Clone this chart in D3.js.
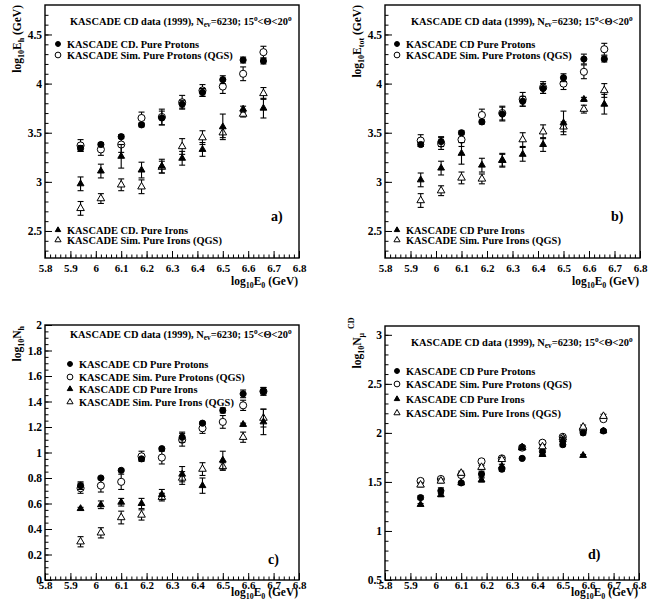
<!DOCTYPE html>
<html>
<head>
<meta charset="utf-8">
<script src="https://cdn.jsdelivr.net/npm/d3@7"></script>
<style>
  body { margin: 0; background: #fff; }
  svg { display: block; }
  text { font-family: "Liberation Serif", "DejaVu Serif", "Times New Roman", serif; font-weight: bold; fill: #000; }
</style>
</head>
<body>
<div id="chart"></div>
<script>
// primary energy bins, log10(E0/GeV)
const energies = [5.94, 6.02, 6.10, 6.18, 6.26, 6.34, 6.42, 6.50, 6.58, 6.66];

// a) log10 Eh
const ehCdProton     = [3.34, 3.38, 3.46, 3.58, 3.65, 3.79, 3.91, 4.04, 4.24, 4.23];
const ehCdProtonErr  = [0.03, 0.02, 0.02, 0.02, 0.07, 0.04, 0.04, 0.04, 0.03, 0.03];
const ehSimProton    = [3.37, 3.33, 3.38, 3.65, 3.66, 3.81, 3.93, 3.97, 4.10, 4.32];
const ehSimProtonErr = [0.06, 0.06, 0.08, 0.06, 0.08, 0.07, 0.06, 0.07, 0.07, 0.06];
const ehCdIron       = [2.98, 3.11, 3.26, 3.12, 3.16, 3.24, 3.33, 3.56, 3.74, 3.75];
const ehCdIronErr    = [0.07, 0.07, 0.12, 0.08, 0.07, 0.07, 0.07, 0.13, 0.03, 0.10];
const ehSimIron      = [2.73, 2.83, 2.97, 2.95, 3.15, 3.36, 3.45, 3.50, 3.69, 3.90];
const ehSimIronErr   = [0.07, 0.05, 0.06, 0.07, 0.06, 0.08, 0.07, 0.05, 0.03, 0.06];

// b) log10 Etot
const etCdProton     = [3.38, 3.41, 3.50, 3.61, 3.69, 3.82, 3.95, 4.06, 4.25, 4.25];
const etCdProtonErr  = [0.02, 0.05, 0.02, 0.02, 0.07, 0.05, 0.05, 0.04, 0.05, 0.03];
const etSimProton    = [3.42, 3.39, 3.43, 3.68, 3.70, 3.84, 3.96, 4.00, 4.12, 4.35];
const etSimProtonErr = [0.06, 0.06, 0.07, 0.06, 0.07, 0.07, 0.06, 0.06, 0.07, 0.06];
const etCdIron       = [3.02, 3.14, 3.29, 3.17, 3.22, 3.28, 3.38, 3.60, 3.84, 3.79];
const etCdIronErr    = [0.07, 0.07, 0.11, 0.07, 0.07, 0.07, 0.07, 0.12, 0.02, 0.10];
const etSimIron      = [2.81, 2.91, 3.04, 3.03, 3.22, 3.43, 3.51, 3.56, 3.74, 3.93];
const etSimIronErr   = [0.07, 0.05, 0.06, 0.05, 0.06, 0.07, 0.07, 0.05, 0.04, 0.07];

// c) log10 Nh
const nhCdProton     = [0.74, 0.80, 0.86, 0.95, 1.03, 1.12, 1.23, 1.33, 1.46, 1.48];
const nhCdProtonErr  = [0.03, 0.01, 0.01, 0.01, 0.01, 0.04, 0.01, 0.02, 0.03, 0.03];
const nhSimProton    = [0.72, 0.74, 0.77, 0.97, 0.96, 1.10, 1.19, 1.24, 1.37, 1.48];
const nhSimProtonErr = [0.04, 0.05, 0.06, 0.04, 0.05, 0.05, 0.04, 0.05, 0.04, 0.03];
const nhCdIron       = [0.56, 0.59, 0.61, 0.60, 0.67, 0.83, 0.74, 0.94, 1.22, 1.24];
const nhCdIronErr    = [0.01, 0.03, 0.03, 0.04, 0.04, 0.06, 0.06, 0.07, 0.01, 0.10];
const nhSimIron      = [0.30, 0.37, 0.49, 0.51, 0.65, 0.80, 0.87, 0.89, 1.12, 1.27];
const nhSimIronErr   = [0.04, 0.04, 0.05, 0.04, 0.03, 0.05, 0.05, 0.03, 0.04, 0.07];

// d) log10 Nmu(CD)
const nmCdProton     = [1.34, 1.41, 1.49, 1.58, 1.63, 1.74, 1.81, 1.88, 2.00, 2.02];
const nmCdProtonErr  = [0.02, 0.03, 0.01, 0.03, 0.02, 0.01, 0.03, 0.02, 0.02, 0.01];
const nmSimProton    = [1.51, 1.53, 1.57, 1.71, 1.74, 1.85, 1.90, 1.96, 2.03, 2.14];
const nmSimProtonErr = [0.02, 0.02, 0.02, 0.02, 0.02, 0.02, 0.02, 0.02, 0.02, 0.02];
const nmCdIron       = [1.27, 1.37, 1.49, 1.52, 1.66, 1.85, 1.78, 1.93, 1.77, 2.02];
const nmCdIronErr    = [0.01, 0.02, 0.01, 0.02, 0.02, 0.01, 0.02, 0.02, 0.01, 0.01];
const nmSimIron      = [1.47, 1.51, 1.59, 1.65, 1.73, 1.85, 1.86, 1.95, 2.06, 2.17];
const nmSimIronErr   = [0.02, 0.02, 0.02, 0.02, 0.02, 0.02, 0.02, 0.02, 0.02, 0.02];

const xTicks = [5.8, 5.9, 6.0, 6.1, 6.2, 6.3, 6.4, 6.5, 6.6, 6.7, 6.8];

const width = 655, height = 609;

const svg = d3.select("#chart").append("svg")
    .attr("width", width)
    .attr("height", height)
    .attr("viewBox", [0, 0, width, height]);

const panels = [
  { tag: "a)", left: 45, right: 299, top: 5, bottom: 258, yDomain: [2.225, 4.8],
    yMajor: [2.5, 3, 3.5, 4, 4.5], yStep: 0.1,
    yTitle: ["log", "10", "E", "h", " (GeV)"],
    series: [ehSimProton, ehSimProtonErr, ehCdProton, ehCdProtonErr, ehSimIron, ehSimIronErr, ehCdIron, ehCdIronErr],
    names: ["KASCADE CD. Pure Protons", "KASCADE Sim. Pure Protons (QGS)", "KASCADE CD. Pure Irons", "KASCADE Sim. Pure Irons (QGS)"],
    legendX: 13, legendRows: [39, 50, 225, 235], headerX: 25, headerY: 20, tagX: 226, tagY: 216,
    titleX: -28, titleEnd: 0, labelOff: 14, xTitleOff: 27 },
  { tag: "b)", left: 385, right: 640, top: 5, bottom: 258, yDomain: [2.225, 4.8],
    yMajor: [2.5, 3, 3.5, 4, 4.5], yStep: 0.1,
    yTitle: ["log", "10", "E", "tot", " (GeV)"],
    series: [etSimProton, etSimProtonErr, etCdProton, etCdProtonErr, etSimIron, etSimIronErr, etCdIron, etCdIronErr],
    names: ["KASCADE CD Pure Protons", "KASCADE Sim. Pure Protons (QGS)", "KASCADE CD Pure Irons", "KASCADE Sim. Pure Irons (QGS)"],
    legendX: 12, legendRows: [39, 50, 225, 235], headerX: 26, headerY: 20, tagX: 226, tagY: 216,
    titleX: -28, titleEnd: 0, labelOff: 14, xTitleOff: 27 },
  { tag: "c)", left: 45, right: 299, top: 325, bottom: 580, yDomain: [0, 2],
    yMajor: d3.range(0, 2.01, 0.2).map(v => +v.toFixed(1)), yStep: 0.05,
    yTitle: ["log", "10", "N", "h", ""],
    series: [nhSimProton, nhSimProtonErr, nhCdProton, nhCdProtonErr, nhSimIron, nhSimIronErr, nhCdIron, nhCdIronErr],
    names: ["KASCADE CD Pure Protons", "KASCADE Sim. Pure Protons (QGS)", "KASCADE CD Pure Irons", "KASCADE Sim. Pure Irons (QGS)"],
    legendX: 25, legendRows: [39, 52, 64, 77], headerX: 25, headerY: 13, tagX: 223, tagY: 239,
    titleX: -28, titleEnd: 1, labelOff: 9, xTitleOff: 16 },
  { tag: "d)", left: 385, right: 639, top: 326, bottom: 580, yDomain: [0.5, 3.09],
    yMajor: [0.5, 1, 1.5, 2, 2.5, 3], yStep: 0.1,
    yTitle: ["log", "10", "N", "\u03bc", ""],
    series: [nmSimProton, nmSimProtonErr, nmCdProton, nmCdProtonErr, nmSimIron, nmSimIronErr, nmCdIron, nmCdIronErr],
    names: ["KASCADE CD Pure Protons", "KASCADE Sim. Pure Protons (QGS)", "KASCADE CD Pure Irons", "KASCADE Sim. Pure Irons (QGS)"],
    legendX: 12, legendRows: [45, 58, 73, 87], headerX: 26, headerY: 20, tagX: 203, tagY: 233,
    titleX: -28, titleEnd: 7, superCD: true, labelOff: 9, xTitleOff: 16 }
];

// marker styles in series order: sim p, cd p, sim fe, cd fe
const markerShapes = [d3.symbolCircle, d3.symbolCircle, d3.symbolTriangle, d3.symbolTriangle];
const markerSizes = [40, 30, 25, 20];
const markerFill = ["#fff", "#000", "#fff", "#000"];
// legend order: cd p, sim p, cd fe, sim fe
const legendIdx = [1, 0, 3, 2];

// scale a text (and its tspans) so that it spans the wanted width
function fitWidth(text, target) {
  const w = text.node().getComputedTextLength();
  if (!w) return 1;
  const k = target / w;
  text.attr("font-size", +text.attr("font-size") * k);
  text.selectAll("tspan").each(function () {
    const t = d3.select(this);
    if (t.attr("font-size")) t.attr("font-size", +t.attr("font-size") * k);
    if (t.attr("dy")) t.attr("dy", +t.attr("dy") * k);
  });
  return k;
}

panels.forEach(p => {
  const x = d3.scaleLinear().domain([5.8, 6.8]).range([p.left, p.right]);
  const y = d3.scaleLinear().domain(p.yDomain).range([p.bottom, p.top]);
  const g = svg.append("g");

  // minor ticks
  const xMinor = d3.range(5.8, 6.801, 0.02).map(v => +v.toFixed(2));
  const yMinor = d3.range(Math.ceil(p.yDomain[0] / p.yStep) * p.yStep, p.yDomain[1], p.yStep).map(v => +v.toFixed(2));

  g.append("g")
      .attr("transform", `translate(0,${p.bottom})`)
      .call(d3.axisBottom(x).tickValues(xMinor).tickSize(-3.5).tickFormat(""))
      .call(a => a.select(".domain").remove());
  g.append("g")
      .attr("transform", `translate(0,${p.bottom})`)
      .call(d3.axisBottom(x).tickValues(xTicks).tickSize(-7).tickPadding(0).tickFormat(d => String(+d.toFixed(1))))
      .call(a => a.select(".domain").remove())
      .call(a => a.selectAll("text").attr("font-size", 11).attr("dy", null).attr("y", p.labelOff));

  g.append("g")
      .attr("transform", `translate(${p.left},0)`)
      .call(d3.axisLeft(y).tickValues(yMinor).tickSize(-3.5).tickFormat(""))
      .call(a => a.select(".domain").remove());
  g.append("g")
      .attr("transform", `translate(${p.left},0)`)
      .call(d3.axisLeft(y).tickValues(p.yMajor).tickSize(-7).tickPadding(3).tickFormat(d => String(+d.toFixed(2))))
      .call(a => a.select(".domain").remove())
      .call(a => a.selectAll("text").attr("font-size", 11.5));

  g.selectAll("g").attr("font-family", null);
  g.selectAll(".tick line").attr("stroke", "#000").attr("stroke-width", 1);

  // frame
  g.append("rect")
      .attr("x", p.left).attr("y", p.top)
      .attr("width", p.right - p.left).attr("height", p.bottom - p.top)
      .attr("fill", "none").attr("stroke", "#000").attr("stroke-width", 1.4);

  // data: error bars then markers
  for (let s = 0; s < 4; s++) {
    const vals = p.series[2 * s], errs = p.series[2 * s + 1];
    const pts = energies.map((e, i) => ({ e, v: vals[i], err: errs[i] }));
    const eg = g.append("g").attr("stroke", "#000").attr("stroke-width", 1.1);
    eg.selectAll("line.bar").data(pts).join("line")
        .attr("x1", d => x(d.e)).attr("x2", d => x(d.e))
        .attr("y1", d => y(d.v - d.err)).attr("y2", d => y(d.v + d.err));
    eg.selectAll("line.capt").data(pts).join("line")
        .attr("x1", d => x(d.e) - 3).attr("x2", d => x(d.e) + 3)
        .attr("y1", d => y(d.v + d.err)).attr("y2", d => y(d.v + d.err));
    eg.selectAll("line.capb").data(pts).join("line")
        .attr("x1", d => x(d.e) - 3).attr("x2", d => x(d.e) + 3)
        .attr("y1", d => y(d.v - d.err)).attr("y2", d => y(d.v - d.err));
    g.append("g").selectAll("path").data(pts).join("path")
        .attr("d", d3.symbol(markerShapes[s], markerSizes[s]))
        .attr("transform", d => `translate(${x(d.e)},${y(d.v)})`)
        .attr("fill", markerFill[s])
        .attr("stroke", "#000")
        .attr("stroke-width", 1);
  }

  // legend
  const legendTexts = legendIdx.map((s, k) => {
    const ly = p.top + p.legendRows[k];
    const lx = p.left + p.legendX;
    g.append("path")
        .attr("d", d3.symbol(markerShapes[s], markerSizes[s] * 0.65))
        .attr("transform", `translate(${lx},${ly})`)
        .attr("fill", markerFill[s]).attr("stroke", "#000").attr("stroke-width", 1);
    return g.append("text")
        .attr("x", lx + 9).attr("y", ly + 3.5)
        .attr("font-size", 10)
        .text(p.names[k]);
  });
  const lk = fitWidth(legendTexts[1], 166);
  [0, 2, 3].forEach(k => legendTexts[k].attr("font-size", 10 * lk));

  // header
  const h = g.append("text")
      .attr("x", p.left + p.headerX).attr("y", p.top + p.headerY)
      .attr("font-size", 10);
  h.append("tspan").text("KASCADE CD data (1999), N");
  h.append("tspan").attr("font-size", 7).attr("dy", 2).text("ev");
  h.append("tspan").attr("dy", -2).text("=6230; 15");
  h.append("tspan").attr("font-size", 7).attr("dy", -4).text("o");
  h.append("tspan").attr("dy", 4).text("<\u0398<20");
  h.append("tspan").attr("font-size", 7).attr("dy", -4).text("o");
  fitWidth(h, 222);

  // panel tag
  g.append("text")
      .attr("x", p.left + p.tagX).attr("y", p.top + p.tagY)
      .attr("font-size", 14)
      .text(p.tag);

  // x title
  const xt = g.append("text")
      .attr("x", p.right - 1).attr("y", p.bottom + p.xTitleOff)
      .attr("text-anchor", "end")
      .attr("font-size", 11.5);
  xt.append("tspan").text("log");
  xt.append("tspan").attr("font-size", 8).attr("dy", 3).text("10");
  xt.append("tspan").attr("dy", -3).text("E");
  xt.append("tspan").attr("font-size", 8).attr("dy", 3).text("0");
  xt.append("tspan").attr("dy", -3).text(" (GeV)");
  fitWidth(xt, 67);

  // y title
  const yt = g.append("text")
      .attr("transform", `translate(${p.left + p.titleX + 4},${p.top + p.titleEnd}) rotate(-90)`)
      .attr("text-anchor", "end")
      .attr("font-size", 11.5);
  const t = p.yTitle;
  yt.append("tspan").text(t[0]);
  yt.append("tspan").attr("font-size", 8).attr("dy", 3).text(t[1]);
  yt.append("tspan").attr("dy", -3).text(t[2]);
  yt.append("tspan").attr("font-size", 8).attr("dy", 3).text(t[3]);
  if (t[4]) yt.append("tspan").attr("dy", -3).text(t[4]);
  if (p.superCD) {
    g.append("text")
        .attr("transform", `translate(${p.left + p.titleX - 3},${p.top + 3}) rotate(-90)`)
        .attr("font-size", 8)
        .text("CD");
  }
});
</script>
</body>
</html>
